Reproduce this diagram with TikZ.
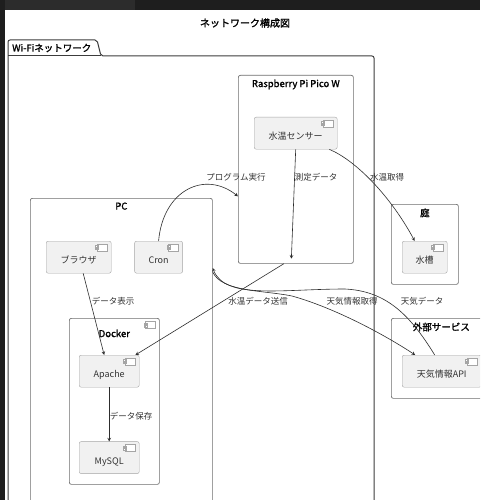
\documentclass[tikz,border=0pt]{standalone}
\usepackage{fontspec}
\setmainfont{Noto Sans CJK JP}[AutoFakeBold=1.5]
\usepackage{tikz}
\usetikzlibrary{positioning}
\definecolor{frameline}{RGB}{110,110,110}
\definecolor{netline}{RGB}{60,60,60}
\definecolor{compline}{RGB}{165,165,165}
\definecolor{compfill}{RGB}{241,241,241}
\definecolor{inkgray}{RGB}{51,51,51}
\definecolor{arrowgray}{RGB}{45,45,45}
\definecolor{screendark}{RGB}{30,30,30}
\definecolor{screentab}{RGB}{44,44,44}

\begin{document}
\begin{tikzpicture}[x=1pt, y=-1pt,
    icon/.style={path picture={
        \draw[compline, fill=white, sharp corners, line width=0.5pt]
          ([xshift=-14pt,yshift=-3pt]path picture bounding box.north east) rectangle ++(10pt,-7pt)
          ([xshift=-15.5pt,yshift=-4.5pt]path picture bounding box.north east) rectangle ++(3pt,-1.5pt)
          ([xshift=-15.5pt,yshift=-7pt]path picture bounding box.north east) rectangle ++(3pt,-1.5pt);}},
    frame/.style={draw=frameline, line width=0.7pt, rounded corners=2pt, anchor=north west, inner sep=0pt},
    ttl/.style={anchor=north, yshift=-1pt, text=black, font=\bfseries\fontsize{9.5}{11}\selectfont},
    comp/.style={draw=compline, fill=compfill, rounded corners=2pt, anchor=north west, minimum height=32pt,
        text=inkgray, font=\fontsize{9}{10}\selectfont, text height=13pt, text depth=0pt, icon},
    lbl/.style={text=inkgray, font=\fontsize{8.5}{10}\selectfont, inner sep=1pt},
    arrow/.style={-stealth, arrowgray, line width=0.6pt}
  ]
  \useasboundingbox (0,0) rectangle (480,500);
  \clip (0,0) rectangle (480,500);
  \fill[white] (0,0) rectangle (480,500);
  % screen edges
  \fill[screendark] (0,0) rectangle (480,10);
  \fill[screentab] (5,0) rectangle (135,10);
  \fill[screendark] (0,0) rectangle (5,500);

  \node[font=\bfseries\fontsize{10}{12}\selectfont] (title) at (245,23) {ネットワーク構成図};

  % Wi-Fi package
  \draw[netline, line width=1pt, rounded corners=2pt] (8,510) -- (8,40) -- (97,40) -- (101,56) -- (374,56) -- (374,510);
  \draw[netline, line width=1pt] (8,56) -- (101,56);
  \node[font=\bfseries\fontsize{9.5}{11}\selectfont, anchor=west, inner sep=0pt] (wifititle) at (12,48) {Wi-Fiネットワーク};

  % containers
  \node[frame, minimum width=115pt, minimum height=188pt, label={[ttl]north:Raspberry Pi Pico W}] (pi) at (238,75) {};
  \node[frame, minimum width=182pt, minimum height=330pt, label={[ttl]north:PC}] (pc) at (30,198) {};
  \node[frame, icon, minimum width=90pt, minimum height=166pt, label={[ttl, yshift=-7pt]north:Docker}] (docker) at (69,318) {};
  \node[frame, minimum width=67pt, minimum height=80pt, label={[ttl]north:庭}] (garden) at (391,204) {};
  \node[frame, minimum width=100pt, minimum height=80pt, label={[ttl]north:外部サービス}] (ext) at (391,318) {};

  % components
  \node[comp, minimum width=83pt] (sensor) at (254,117) {水温センサー};
  \node[comp, minimum width=65pt] (browser) at (46,241) {ブラウザ};
  \node[comp, minimum width=48pt, right=23pt of browser] (cron) {Cron};
  \node[comp, minimum width=60pt] (apache) at (79,355) {Apache};
  \node[comp, minimum width=60pt, below=54pt of apache] (mysql) {MySQL};
  \node[comp, minimum width=45pt] (tank) at (402,241) {水槽};
  \node[comp, minimum width=79pt] (api) at (402,355) {天気情報API};

  % connectors
  \draw[arrow] (cron.north) .. controls (163,190) and (205,170) .. ([yshift=-27pt]pi.west);
  \draw[arrow] (sensor.south) -- ([xshift=-4.5pt,yshift=5pt]pi.south);
  \draw[arrow] ([xshift=-8pt]sensor.south east) .. controls (355,160) and (390,195) .. ([xshift=-10pt]tank.north);
  \draw[arrow] ([xshift=-12pt]pi.south) -- ([xshift=-4pt]apache.north east);
  \draw[arrow] ([xshift=4.5pt]browser.south) -- ([xshift=-5pt]apache.north);
  \draw[arrow] (apache) -- (mysql);
  \draw[arrow] ([yshift=-74pt]pc.north east) .. controls (222,292) and (262,290) .. (292,296)
    .. controls (335,308) and (385,335) .. ([xshift=-26.5pt]api.north);
  \draw[arrow] ([xshift=-7pt]api.north) .. controls (409,313) and (385,291) .. (345,289)
    .. controls (282,289) and (225,300) .. ([yshift=-70pt]pc.north east);

  % connector labels
  \node[lbl] (lprog) at (236,177) {プログラム実行};
  \node[lbl] (lmeas) at (316,177) {測定データ};
  \node[lbl] (lget) at (387,177) {水温取得};
  \node[lbl] (lsend) at (258,301) {水温データ送信};
  \node[lbl] (lwreq) at (352,301) {天気情報取得};
  \node[lbl] (lwdata) at (422,301) {天気データ};
  \node[lbl] (lshow) at (113,301) {データ表示};
  \node[lbl] (lsave) at (131,416) {データ保存};
\end{tikzpicture}
\end{document}
